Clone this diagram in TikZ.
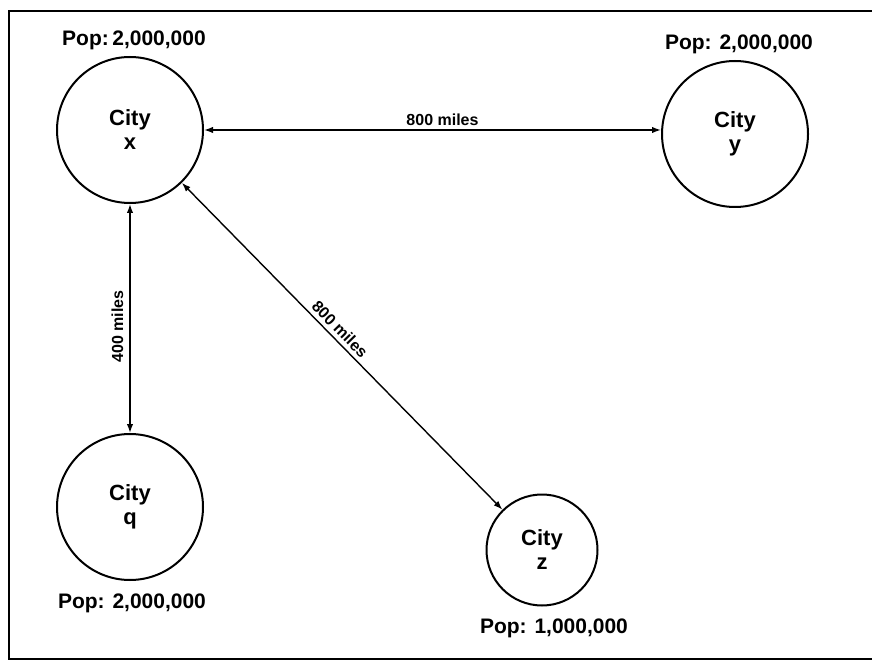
\documentclass[tikz,border=0pt]{standalone}
\usepackage{fontspec}
\setmainfont{Liberation Sans}
\usetikzlibrary{arrows.meta,positioning}
\tikzset{
  city/.style={circle,draw,line width=1pt,inner sep=0pt,minimum size=73pt,
    align=center,font=\bfseries\fontsize{11}{12}\selectfont},
  pop/.style={inner sep=0pt,font=\bfseries\fontsize{10.5}{12}\selectfont},
  dist/.style={inner sep=2pt,font=\bfseries\fontsize{8}{9}\selectfont},
  road/.style={{Latex[length=4.5pt,width=3.2pt]}-{Latex[length=4.5pt,width=3.2pt]},line width=0.7pt}
}

\begin{document}
\begin{tikzpicture}[x=0.5pt,y=-0.5pt]
\useasboundingbox (0,0) rectangle (872,662);
\draw[line width=1pt] (872,11) -- (9,11) -- (9,659) -- (872,659);

\node[city] (cityX) at (130,130) {City\\x};
\node[city] (cityY) at (735,134) {City\\y};
\node[city] (cityQ) at (130,507) {City\\q};
\node[city,minimum size=55.5pt] (cityZ) at (542,550) {City\\z};

\node[pop,above=3pt of cityX,xshift=2pt] (popX) {Pop:\,2,000,000};
\node[pop,above=3pt of cityY,xshift=2pt] (popY) {Pop: 2,000,000};
\node[pop,below=6pt of cityQ,xshift=1pt] (popQ) {Pop: 2,000,000};
\node[pop,below=6pt of cityZ,xshift=6pt] (popZ) {Pop: 1,000,000};

% distances between the cities
\draw[road] (cityX.east) -- (cityX.east -| cityY.west)
  node[dist,midway,above,xshift=5pt] {800 miles};
\draw[road] (cityX.south) -- (cityQ.north)
  node[dist,midway,rotate=90,anchor=south,yshift=1pt,xshift=-4pt] {400 miles};
\draw[road] (cityX) -- (cityZ)
  node[dist,pos=0.47,sloped,above] {800 miles};
\end{tikzpicture}
\end{document}
